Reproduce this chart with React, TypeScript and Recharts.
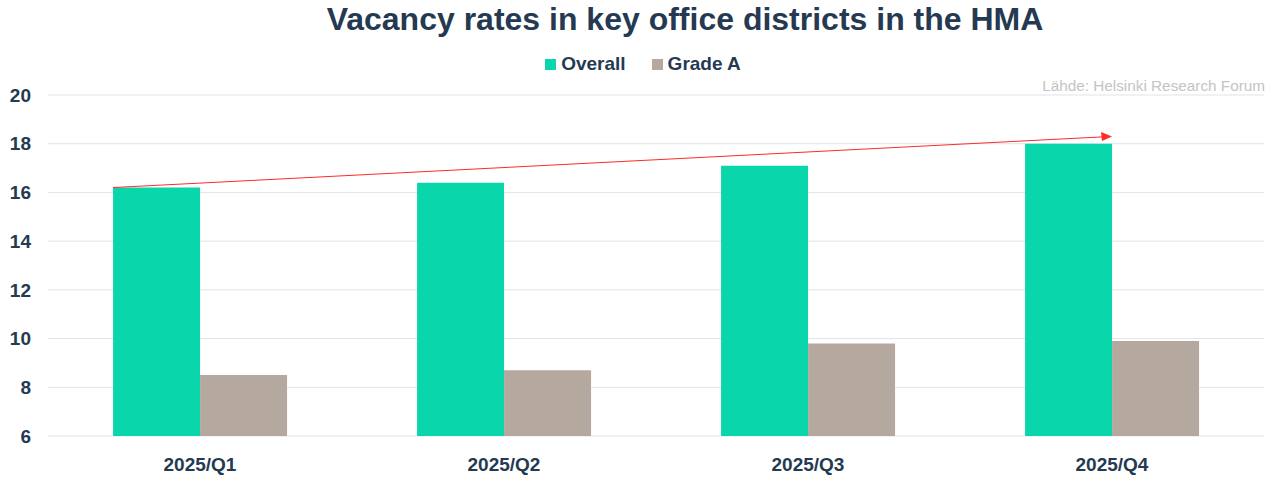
import { Bar, BarChart, CartesianGrid, ReferenceLine, XAxis, YAxis } from 'recharts'

const quarters = ['2025/Q1', '2025/Q2', '2025/Q3', '2025/Q4']
const overall = [16.2, 16.4, 17.1, 18.0]
const gradeA = [8.5, 8.7, 9.8, 9.9]
const yTicks = [6, 8, 10, 12, 14, 16, 18, 20]
const trendStart = { quarter: '2025/Q1', value: 16.2 }
const trendEnd = { quarter: '2025/Q4', value: 18.3 }

const data = quarters.map((q, i) => ({ quarter: q, overall: overall[i], gradeA: gradeA[i] }))

const TEXT = '#253a52'
const font = 'Arial, "Liberation Sans", sans-serif'

function ArrowShape(props: any) {
  const { x1, y1, x2, y2 } = props
  // line starts at the left edge of the first Overall bar
  const sx = x1 - 87
  return (
    <g>
      <line x1={sx} y1={y1} x2={x2 - 10} y2={y2 + 0.5} stroke="#ff2a2a" strokeWidth={1} />
      <path d={`M${x2} ${y2} L${x2 - 11} ${y2 - 4.5} L${x2 - 10} ${y2 + 4.5} Z`} fill="#ff2a2a" />
    </g>
  )
}

function LegendContent() {
  const items = [
    { label: 'Overall', color: '#0ad6ac' },
    { label: 'Grade A', color: '#b5a89e' },
  ]
  return (
    <div style={{ display: 'flex', justifyContent: 'center', gap: 26, fontFamily: font, fontWeight: 700, fontSize: 19, color: TEXT }}>
      {items.map((it) => (
        <div key={it.label} style={{ display: 'flex', alignItems: 'center', gap: 5 }}>
          <span style={{ width: 11, height: 11, background: it.color, display: 'inline-block' }} />
          <span>{it.label}</span>
        </div>
      ))}
    </div>
  )
}

export default function App() {
  return (
    <div style={{ position: 'relative', width: 1280, height: 479, background: '#fff', fontFamily: font }}>
      <style>{'body{margin:0}'}</style>
      <div style={{ position: 'absolute', top: 1, left: 45, width: 1280, textAlign: 'center', fontSize: 32, fontWeight: 700, color: TEXT }}>
        Vacancy rates in key office districts in the HMA
      </div>
      <div style={{ position: 'absolute', top: 53, left: 3, width: 1280 }}>
        <LegendContent />
      </div>
      <div style={{ position: 'absolute', top: 77, right: 15, fontSize: 15.3, color: '#c4c4c4' }}>
        Lähde: Helsinki Research Forum
      </div>
      <BarChart
        width={1280}
        height={479}
        data={data}
        margin={{ top: 95, right: 16, left: 0, bottom: 0 }}
        barCategoryGap="21.4%"
        barGap={0}
      >
        <CartesianGrid vertical={false} stroke="#dde5ef" />
        <XAxis
          dataKey="quarter"
          height={43}
          axisLine={false}
          tickLine={false}
          tickMargin={16}
          tick={{ fill: TEXT, fontSize: 19, fontWeight: 700, fontFamily: font }}
        />
        <YAxis
          domain={[6, 20]}
          ticks={yTicks}
          width={48}
          axisLine={false}
          tickLine={false}
          tickMargin={11}
          tick={{ fill: TEXT, fontSize: 19, fontWeight: 700, fontFamily: font }}
        />
        <Bar dataKey="overall" name="Overall" fill="#0ad6ac" isAnimationActive={false} />
        <Bar dataKey="gradeA" name="Grade A" fill="#b5a89e" isAnimationActive={false} />
        <ReferenceLine
          segment={[
            { x: trendStart.quarter, y: trendStart.value },
            { x: trendEnd.quarter, y: trendEnd.value },
          ]}
          shape={<ArrowShape />}
          ifOverflow="visible"
        />
      </BarChart>
    </div>
  )
}
